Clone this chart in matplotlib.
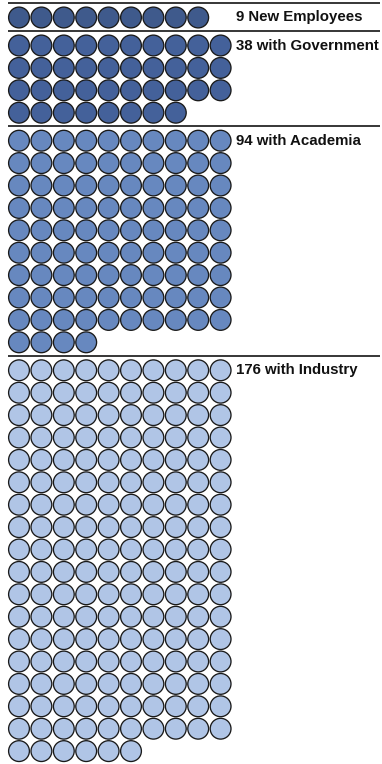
import matplotlib
matplotlib.use("Agg")
from matplotlib import pyplot as plt
from matplotlib.patches import Circle
from matplotlib.collections import PatchCollection

# head counts per destination
groups = ["New Employees", "with Government", "with Academia", "with Industry"]
counts = [9, 38, 94, 176]
labels = ["9 New Employees", "38 with Government", "94 with Academia", "176 with Industry"]
colors = ["#3f5a8c", "#44619a", "#6788bf", "#b0c5e6"]

per_row = 10
pitch = 22.4      # spacing between circle centres, in pixels
radius = 10.4
x0 = 19.0
top = 3.0

fig = plt.figure(figsize=(3.82, 7.64), dpi=100)
ax = fig.add_axes([0, 0, 1, 1])
ax.set_xlim(0, 382)
ax.set_ylim(764, 0)
ax.axis("off")

y_line = top
for name, n, lab, col in zip(groups, counts, labels, colors):
    ax.plot([8, 380], [y_line, y_line], color="black", lw=1.1, solid_capstyle="butt")
    y_first = y_line + 14.5
    circles = []
    for i in range(n):
        r, c = divmod(i, per_row)
        circles.append(Circle((x0 + c * pitch, y_first + r * pitch), radius))
    ax.add_collection(PatchCollection(circles, facecolor=col, edgecolor="#1a1a1a",
                                      linewidth=0.95))
    ax.text(236.5, y_first, lab, fontsize=10.8, fontweight="bold",
            family="Liberation Sans", va="center", ha="left", color="#111111")
    n_rows = (n + per_row - 1) // per_row
    y_line = y_first + (n_rows - 1) * pitch + 13.5

fig.savefig("out.png", dpi=100)
